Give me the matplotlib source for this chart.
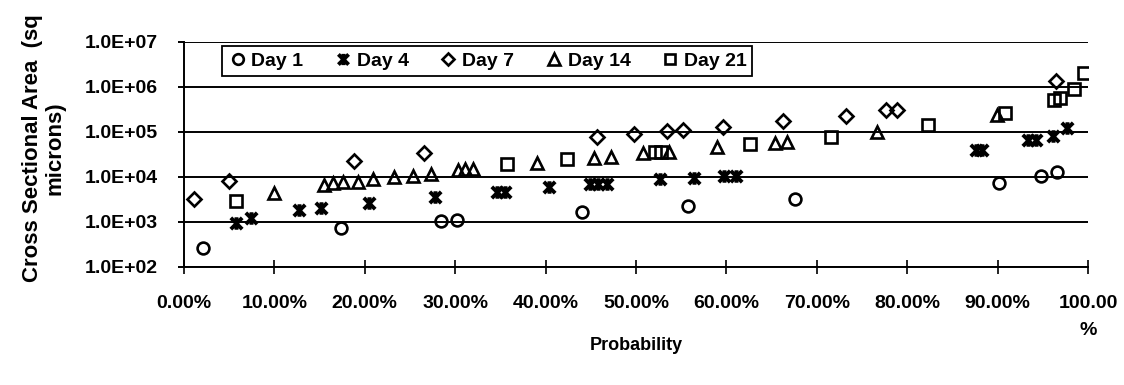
import numpy as np
import matplotlib
matplotlib.use("Agg")
import matplotlib.pyplot as plt
from matplotlib.path import Path
from matplotlib.ticker import FixedLocator, LogLocator, FuncFormatter, NullFormatter

plt.rcParams['font.family'] = ['Liberation Sans', 'DejaVu Sans']
plt.rcParams['font.weight'] = 'bold'

# ---- data (x = probability %, y = cross sectional area, sq microns) ----
day1_x = [2.1, 17.4, 28.4, 30.2, 44.0, 55.8, 67.6, 90.2, 94.8, 96.6]
day1_y = [270, 750, 1070, 1100, 1700, 2300, 3200, 7400, 10700, 12600]

day4_x = [5.8, 7.4, 12.7, 15.2, 20.5, 27.8, 34.6, 35.5, 40.4, 44.9, 45.8, 46.8,
          52.7, 56.4, 59.7, 61.1, 87.6, 88.3, 93.4, 94.2, 96.1, 97.7]
day4_y = [960, 1200, 1860, 2000, 2700, 3600, 4700, 4700, 5900, 6900, 6900, 6900,
          8900, 9700, 10500, 10500, 40000, 40000, 66000, 66000, 81000, 120000]

day7_x = [1.1, 5.0, 18.8, 26.5, 45.7, 49.8, 53.4, 55.2, 59.6, 66.3, 73.2, 77.7, 78.9, 96.5]
day7_y = [3200, 8000, 23000, 34000, 79000, 91000, 107000, 110000, 132000, 178000,
          230000, 310000, 310000, 1370000]

day14_x = [10.0, 15.5, 16.5, 17.6, 19.2, 20.9, 23.2, 25.3, 27.3, 30.3, 31.1, 32.0,
           39.1, 45.4, 47.2, 50.8, 53.6, 59.0, 65.4, 66.7, 76.7, 89.9]
day14_y = [4400, 6600, 7200, 7900, 7900, 8900, 10000, 10700, 11700, 14500, 14800, 14800,
           20000, 26000, 28000, 34000, 36000, 46000, 58000, 60000, 100000, 240000]

day21_x = [5.8, 35.7, 42.4, 52.1, 52.8, 62.6, 71.6, 82.3, 90.8, 96.2, 96.9, 98.4, 99.6]
day21_y = [3000, 19000, 25000, 36000, 36000, 53000, 79000, 144000, 270000,
           510000, 560000, 880000, 2000000]

series_labels = ["Day 1", "Day 4", "Day 7", "Day 14", "Day 21"]
x_ticks = [0, 10, 20, 30, 40, 50, 60, 70, 80, 90, 100]
x_tick_labels = ["0.00%", "10.00%", "20.00%", "30.00%", "40.00%", "50.00%",
                 "60.00%", "70.00%", "80.00%", "90.00%", "100.00\n%"]
y_ticks = [1e2, 1e3, 1e4, 1e5, 1e6, 1e7]

# Excel-like star marker: X plus vertical bar
star = Path([(-1, -1), (1, 1), (-1, 1), (1, -1), (0, -1.1), (0, 1.1)],
            [Path.MOVETO, Path.LINETO, Path.MOVETO, Path.LINETO, Path.MOVETO, Path.LINETO])

fig = plt.figure(figsize=(11.24, 3.85), dpi=100)
ax = fig.add_axes([0.1637, 0.3065, 0.968 - 0.1637, 0.891 - 0.3065])

common = dict(linestyle='none', color='black', markerfacecolor='none',
              markeredgecolor='black', markeredgewidth=1.9)
ax.plot(day1_x, day1_y, marker='o', markersize=8.5, label=series_labels[0], **common)
ax.plot(day4_x, day4_y, marker=star, markersize=9, label=series_labels[1],
        **{**common, 'markeredgewidth': 2.8})
ax.plot(day7_x, day7_y, marker='D', markersize=7, label=series_labels[2], **common)
ax.plot(day14_x, day14_y, marker='^', markersize=9, label=series_labels[3], **common)
ax.plot(day21_x, day21_y, marker='s', markersize=8.5, label=series_labels[4], **common)

ax.set_yscale('log')
ax.set_ylim(1e2, 1e7)
ax.set_xlim(0, 100)

ax.yaxis.set_major_locator(FixedLocator(y_ticks))
ax.yaxis.set_major_formatter(FuncFormatter(lambda v, p: "1.0E+%02d" % int(round(np.log10(v)))))
ax.yaxis.set_minor_locator(LogLocator(base=10, subs=np.arange(2, 10)))
ax.yaxis.set_minor_formatter(NullFormatter())
ax.set_xticks(x_ticks)
ax.set_xticklabels(x_tick_labels, linespacing=1.75)

ax.grid(axis='y', which='major', color='black', linewidth=1.4)
ax.set_axisbelow(True)
for s in ['top', 'right']:
    ax.spines[s].set_visible(False)
for s in ['left', 'bottom']:
    ax.spines[s].set_linewidth(1.4)

ax.tick_params(axis='y', which='major', direction='out', length=4, width=1.4,
               labelsize=14, pad=15)
ax.tick_params(axis='y', which='minor', direction='in', length=4, width=1.0)
ax.tick_params(axis='x', which='major', direction='inout', length=10, width=1.2,
               labelsize=14, pad=15)
for lab in ax.get_xticklabels() + ax.get_yticklabels():
    lab.set_fontweight('bold')
ax.get_xticklabels()[-1].set_horizontalalignment('center')

fig.text(44 / 1124, 1 - 148 / 385, "Cross Sectional Area  (sq\nmicrons)", rotation=90,
         fontsize=16, fontweight='bold', ha='center', va='center',
         multialignment='center', linespacing=1.1)
fig.text(636 / 1124, 1 - 345 / 385, "Probability", fontsize=13, fontweight='bold',
         ha='center', va='center')

leg = ax.legend(loc='upper left', bbox_to_anchor=(0.042, 0.98), ncol=5,
                frameon=True, fancybox=False, edgecolor='black',
                prop={'size': 14, 'weight': 'bold'},
                handletextpad=0.2, columnspacing=1.55, handlelength=1.0,
                borderpad=0.3, borderaxespad=0, markerscale=0.9)
leg.get_frame().set_linewidth(1.3)
leg.get_frame().set_alpha(1)

fig.savefig("out.png", dpi=100)
